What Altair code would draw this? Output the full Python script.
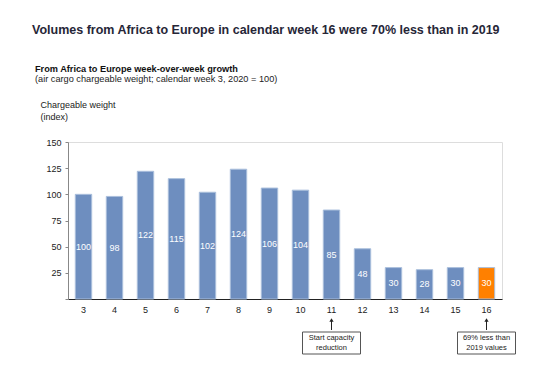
import altair as alt
import pandas as pd

weeks = [3, 4, 5, 6, 7, 8, 9, 10, 11, 12, 13, 14, 15, 16]
values = [100, 98, 122, 115, 102, 124, 106, 104, 85, 48, 30, 28, 30, 30]
highlight = [False] * 13 + [True]

title = "Volumes from Africa to Europe in calendar week 16 were 70% less than in 2019"
sub1 = "From Africa to Europe week-over-week growth"
sub2 = "(air cargo chargeable weight; calendar week  3, 2020 = 100)"
ytitle = ["Chargeable weight", "(index)"]
yticks = [0, 25, 50, 75, 100, 125, 150]

ann_weeks = [11, 16]
ann_line1 = ["Start capacity", "69% less than"]
ann_line2 = ["reduction", "2019 values"]

FONT = "Liberation Sans"

df = pd.DataFrame({"week": weeks, "value": values, "hl": highlight})
ann = pd.DataFrame({"week": ann_weeks, "l1": ann_line1, "l2": ann_line2})

x = alt.X("week:O", title=None, sort=weeks,
          scale=alt.Scale(paddingInner=0.47, paddingOuter=0.235),
          axis=alt.Axis(labelAngle=0, ticks=False, domainColor="#222222",
                        labelFont=FONT, labelFontSize=9, labelColor="#222222",
                        labelPadding=6))

y_axis = alt.Axis(values=yticks, grid=False, labelOverlap=False,
                  labelExpr="datum.value == 0 ? '' : datum.label",
                  tickSize=3, tickColor="#888888", domainColor="#888888",
                  labelFont=FONT, labelFontSize=9, labelColor="#222222",
                  labelPadding=4,
                  title=ytitle, titleAngle=0, titleAlign="left",
                  titleBaseline="middle", titleX=-28, titleY=-38,
                  titleFont=FONT, titleFontSize=9, titleFontWeight="normal",
                  titleColor="#222222", titleLineHeight=12)
y_scale = alt.Scale(domain=[0, 150])

bars = alt.Chart(df).mark_bar(stroke="#aabfdc", strokeWidth=1).encode(
    x=x,
    y=alt.Y("value:Q", scale=y_scale, axis=y_axis),
    color=alt.Color("hl:N", scale=alt.Scale(domain=[False, True],
                                            range=["#6e8ebf", "#ff8000"]), legend=None),
)

labels = alt.Chart(df).transform_calculate(half="datum.value / 2").mark_text(
    color="white", font=FONT, fontSize=9, baseline="middle").encode(
    x=alt.X("week:O", sort=weeks),
    y=alt.Y("half:Q", scale=y_scale, axis=y_axis),
    text=alt.Text("value:Q"))

boxes = alt.Chart(ann).mark_bar(width=58, fill="white", stroke="#555555",
                                strokeWidth=1).encode(
    x=alt.X("week:O", sort=weeks), y=alt.value(190), y2=alt.value(212))

arrows = alt.Chart(ann).mark_rule(color="#222222", strokeWidth=1).encode(
    x=alt.X("week:O", sort=weeks), y=alt.value(178), y2=alt.value(188))

heads = alt.Chart(ann).mark_point(shape="triangle-up", filled=True, size=18,
                                  color="#222222", opacity=1).encode(
    x=alt.X("week:O", sort=weeks), y=alt.value(178))

t1 = alt.Chart(ann).mark_text(font=FONT, fontSize=7.5, color="#222222",
                              baseline="middle").encode(
    x=alt.X("week:O", sort=weeks), y=alt.value(196), text="l1:N")
t2 = alt.Chart(ann).mark_text(font=FONT, fontSize=7.5, color="#222222",
                              baseline="middle").encode(
    x=alt.X("week:O", sort=weeks), y=alt.value(206), text="l2:N")

txt = pd.DataFrame({"t": [title, sub1, sub2],
                    "k": ["a", "b", "c"]})

title_mark = alt.Chart(txt).transform_filter("datum.k == 'a'").mark_text(
    font=FONT, fontSize=12.5, fontWeight="bold", color="#262637", align="left",
    baseline="middle").encode(x=alt.value(-36), y=alt.value(-112), text="t:N")
sub1_mark = alt.Chart(txt).transform_filter("datum.k == 'b'").mark_text(
    font=FONT, fontSize=9.2, fontWeight="bold", color="#111111", align="left",
    baseline="middle").encode(x=alt.value(-33), y=alt.value(-73), text="t:N")
sub2_mark = alt.Chart(txt).transform_filter("datum.k == 'c'").mark_text(
    font=FONT, fontSize=9.2, color="#222222", align="left",
    baseline="middle").encode(x=alt.value(-33), y=alt.value(-63), text="t:N")

chart = alt.layer(bars, labels, boxes, arrows, heads, t1, t2,
                  title_mark, sub1_mark, sub2_mark).properties(
    width=434, height=157,
    autosize=alt.AutoSizeParams(type="none"),
    padding={"left": 60, "top": 134, "right": 48, "bottom": 60},
).configure_view(stroke=None).configure(background="white")

chart.save("out.html", embed_options={"renderer": "svg", "actions": False})
